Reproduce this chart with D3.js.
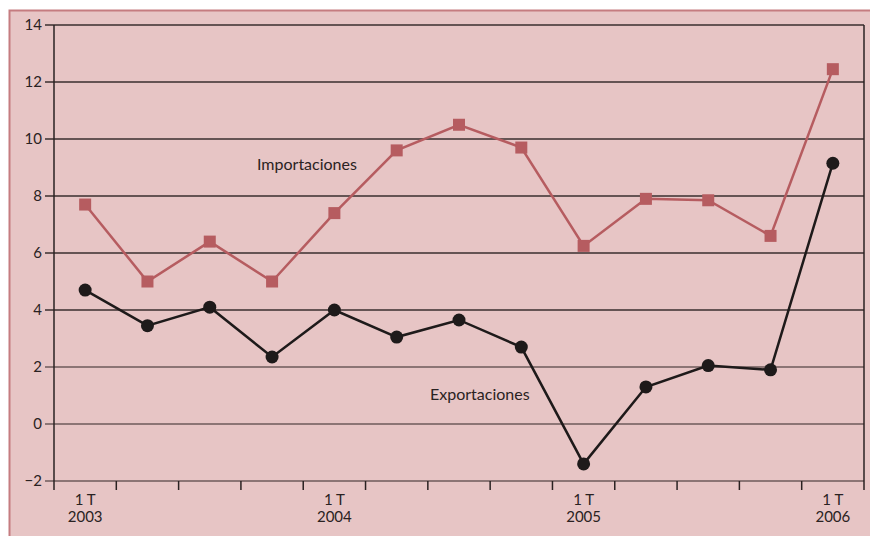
<!DOCTYPE html>
<html>
<head>
<meta charset="utf-8">
<script src="https://cdn.jsdelivr.net/npm/d3@7"></script>
<style>
  body { margin: 0; background: #fff; }
  text { font-family: "Lato", "Open Sans", sans-serif; fill: #2a2222; }
</style>
</head>
<body>
<div id="chart"></div>
<script>
// Quarters 1T 2003 .. 1T 2006
const quarters = ["2003-1", "2003-2", "2003-3", "2003-4", "2004-1", "2004-2", "2004-3", "2004-4",
  "2005-1", "2005-2", "2005-3", "2005-4", "2006-1"];
const importaciones = [7.7, 5.0, 6.4, 5.0, 7.4, 9.6, 10.5, 9.7, 6.25, 7.9, 7.85, 6.6, 12.45];
const exportaciones = [4.7, 3.45, 4.1, 2.35, 4.0, 3.05, 3.65, 2.7, -1.4, 1.3, 2.05, 1.9, 9.15];
const yTicks = [-2, 0, 2, 4, 6, 8, 10, 12, 14];
const yearLabels = [{ q: "2003-1", year: "2003" }, { q: "2004-1", year: "2004" },
  { q: "2005-1", year: "2005" }, { q: "2006-1", year: "2006" }];

const width = 870, height = 536;
const margin = { top: 25, right: 6, bottom: 55, left: 54 };

const svg = d3.select("#chart").append("svg")
  .attr("width", width)
  .attr("height", height);

// Pink panel with darker border
svg.append("rect")
  .attr("x", 9.5).attr("y", 10.5)
  .attr("width", width).attr("height", height)
  .style("fill", "#e7c5c5")
  .style("stroke", "#c57c80")
  .style("stroke-width", 2);

const x = d3.scaleBand()
  .domain(quarters)
  .range([margin.left, width - margin.right]);

const y = d3.scaleLinear()
  .domain([-2, 14])
  .range([height - margin.bottom, margin.top]);

// Horizontal gridlines
svg.selectAll(".grid")
  .data(yTicks)
  .enter()
  .append("line")
  .attr("x1", margin.left - 9)
  .attr("x2", width - margin.right)
  .attr("y1", d => y(d))
  .attr("y2", d => y(d))
  .style("stroke", d => d <= 2 ? "#6e5a5a" : "#3a2e2e")
  .style("stroke-width", 1.5);

// Y labels
svg.selectAll(".ylab")
  .data(yTicks)
  .enter()
  .append("text")
  .attr("x", margin.left - 12)
  .attr("y", d => y(d))
  .attr("dy", "0.35em")
  .style("text-anchor", "end")
  .style("font-size", "15px")
  .text(d => d < 0 ? "\u2212" + Math.abs(d) : d);

// Left and right vertical lines
const bottomY = y(-2);
[margin.left, width - margin.right].forEach(px => {
  svg.append("line")
    .attr("x1", px).attr("x2", px)
    .attr("y1", y(14)).attr("y2", bottomY + 9)
    .style("stroke", "#2a2222")
    .style("stroke-width", 1.5);
});

// Quarter ticks between bands
svg.selectAll(".xtick")
  .data(quarters.slice(1))
  .enter()
  .append("line")
  .attr("x1", d => x(d))
  .attr("x2", d => x(d))
  .attr("y1", bottomY)
  .attr("y2", bottomY + 9)
  .style("stroke", "#2a2222")
  .style("stroke-width", 1.5);

// Year labels
const yl = svg.selectAll(".xlab")
  .data(yearLabels)
  .enter()
  .append("text")
  .attr("x", d => x(d.q) + x.bandwidth() / 2)
  .attr("y", bottomY + 24)
  .style("text-anchor", "middle")
  .style("font-size", "15px");
yl.append("tspan").text("1 T");
yl.append("tspan")
  .attr("x", d => x(d.q) + x.bandwidth() / 2)
  .attr("dy", "1.1em")
  .text(d => d.year);

const cx = (d, i) => x(quarters[i]) + x.bandwidth() / 2;
const line = d3.line().x(cx).y(d => y(d));

// Importaciones
svg.append("path")
  .datum(importaciones)
  .attr("d", line)
  .style("fill", "none")
  .style("stroke", "#b65c60")
  .style("stroke-width", 2.5);

svg.selectAll(".imp")
  .data(importaciones)
  .enter()
  .append("rect")
  .attr("x", (d, i) => cx(d, i) - 6)
  .attr("y", d => y(d) - 6)
  .attr("width", 12)
  .attr("height", 12)
  .style("fill", "#b65c60");

// Exportaciones
svg.append("path")
  .datum(exportaciones)
  .attr("d", line)
  .style("fill", "none")
  .style("stroke", "#1e1a1a")
  .style("stroke-width", 2.5);

svg.selectAll(".exp")
  .data(exportaciones)
  .enter()
  .append("circle")
  .attr("cx", cx)
  .attr("cy", d => y(d))
  .attr("r", 6.5)
  .style("fill", "#1e1a1a");

// Series labels
svg.append("text")
  .attr("x", 257).attr("y", y(8.9))
  .style("font-size", "16px")
  .text("Importaciones");

svg.append("text")
  .attr("x", 430).attr("y", y(0.85))
  .style("font-size", "16px")
  .text("Exportaciones");
</script>
</body>
</html>
